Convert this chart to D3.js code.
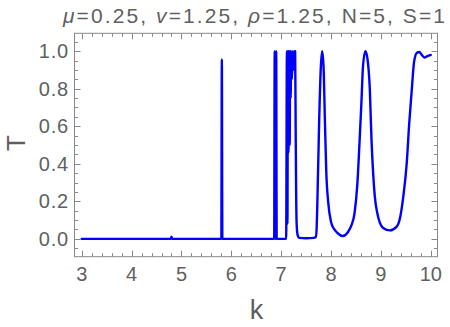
<!DOCTYPE html>
<html>
<head>
<meta charset="utf-8">
<script src="https://cdn.jsdelivr.net/npm/d3@7"></script>
<style>
  body { margin: 0; background: #fff; }
  svg { display: block; font-family: "Liberation Sans", Arial, sans-serif; }
  .lbl { fill: #5f5f5f; }
</style>
</head>
<body>
<svg width="450" height="327"></svg>
<script>
// k values and transmission T
var kVals = [3.0, 4.79, 4.80, 4.81, 5.80, 5.81, 5.82,
	6.86, 6.87, 6.882, 6.892, 6.90, 6.91,
	7.10, 7.115, 7.125, 7.135, 7.145, 7.155, 7.17, 7.18, 7.19, 7.20, 7.215, 7.23, 7.245, 7.26, 7.27, 7.28, 7.29, 7.30, 7.31, 7.33, 7.36,
	7.50, 7.65, 7.694, 7.71, 7.727, 7.761, 7.796, 7.822, 7.849, 7.878, 7.904, 7.945, 8.0,
	8.067, 8.134, 8.235, 8.337, 8.406, 8.473, 8.527, 8.574, 8.608, 8.641, 8.69, 8.73, 8.777, 8.811, 8.844, 8.878, 8.925, 8.98,
	9.046, 9.181, 9.316, 9.382, 9.449, 9.517, 9.569, 9.618, 9.664, 9.718, 9.771, 9.819, 9.871, 9.932, 10.0];
var tVals = [0, 0, 0.012, 0, 0, 0.956, 0,
	0, 1.0, 0, 0, 1.0, 0,
	0, 1.0, 0.08, 1.0, 0.46, 1.0, 0.5, 1.0, 0.75, 1.0, 0.85, 1.0, 0.9, 1.0, 0.94, 1.0, 0.6, 0.25, 0.08, 0.02, 0.005,
	0.003, 0.005, 0.01, 0.05, 0.21, 0.62, 0.92, 1.0, 0.92, 0.62, 0.36, 0.19, 0.09,
	0.05, 0.03, 0.015, 0.035, 0.07, 0.14, 0.29, 0.53, 0.72, 0.92, 1.0, 0.96, 0.8, 0.53, 0.35, 0.225, 0.14, 0.085,
	0.058, 0.045, 0.065, 0.11, 0.225, 0.40, 0.62, 0.79, 0.94, 0.99, 0.995, 0.98, 0.966, 0.973, 0.98];

var xTicks = [3, 4, 5, 6, 7, 8, 9, 10];
var yTicks = [0.0, 0.2, 0.4, 0.6, 0.8, 1.0];
var titleParts = [["μ", true], ["=0.25, ", false], ["v", true], ["=1.25, ", false], ["ρ", true], ["=1.25, N=5, S=1", false]];

var data = kVals.map(function(k, i) { return [k, tVals[i]]; });

var plotL = 74.5, plotR = 437.5, plotT = 33.3, plotB = 256.7;

var xScale = d3.scaleLinear()
	.domain([2.855, 10.135])
	.range([plotL, plotR]);

var yScale = d3.scaleLinear()
	.domain([-0.095, 1.095])
	.range([plotB, plotT]);

var svg = d3.select("svg");

// minor ticks
var xMinor = d3.range(2.8, 10.2, 0.2).filter(function(v) { return v > 2.855 && v < 10.135; });
var yMinor = d3.range(-0.05, 1.1, 0.05).filter(function(v) { return v > -0.095 && v < 1.095; });

var ticks = svg.append("g").attr("stroke", "#888").attr("stroke-width", 1);

function xTickMarks(vals, len) {
	vals.forEach(function(v) {
		var x = Math.round(xScale(v)) + 0.5;
		ticks.append("line").attr("x1", x).attr("x2", x).attr("y1", plotB).attr("y2", plotB - len);
		ticks.append("line").attr("x1", x).attr("x2", x).attr("y1", plotT).attr("y2", plotT + len);
	});
}
function yTickMarks(vals, len) {
	vals.forEach(function(v) {
		var y = Math.round(yScale(v)) + 0.5;
		ticks.append("line").attr("x1", plotL).attr("x2", plotL + len).attr("y1", y).attr("y2", y);
		ticks.append("line").attr("x1", plotR).attr("x2", plotR - len).attr("y1", y).attr("y2", y);
	});
}
xTickMarks(xMinor, 3.5);
xTickMarks(xTicks, 6);
yTickMarks(yMinor, 3.5);
yTickMarks(yTicks, 6);

svg.append("rect")
	.attr("x", plotL).attr("y", plotT)
	.attr("width", plotR - plotL).attr("height", plotB - plotT)
	.attr("fill", "none")
	.attr("stroke", "#888")
	.attr("stroke-width", 1);

svg.append("g").selectAll("text")
	.data(xTicks)
	.join("text")
		.attr("class", "lbl")
		.attr("x", function(d) { return xScale(d); })
		.attr("y", 280.5)
		.attr("text-anchor", "middle")
		.style("font-size", "20px")
		.text(function(d) { return d; });

svg.append("g").selectAll("text")
	.data(yTicks)
	.join("text")
		.attr("class", "lbl")
		.attr("x", 69)
		.attr("y", function(d) { return yScale(d) + 7; })
		.attr("text-anchor", "end")
		.style("font-size", "20px")
		.style("letter-spacing", "0.8px")
		.text(function(d) { return d.toFixed(1); });

var line = d3.line()
	.curve(d3.curveMonotoneX)
	.x(function(d) { return xScale(d[0]); })
	.y(function(d) { return yScale(d[1]); });

svg.append("path")
	.datum(data)
	.attr("fill", "none")
	.attr("stroke", "#0000ff")
	.attr("stroke-width", 2.4)
	.attr("stroke-linejoin", "round")
	.attr("stroke-linecap", "round")
	.attr("d", line);

var title = svg.append("text")
	.attr("class", "lbl")
	.attr("x", 254)
	.attr("y", 23)
	.attr("text-anchor", "middle")
	.attr("textLength", 382)
	.attr("lengthAdjust", "spacing")
	.style("font-size", "21px");
titleParts.forEach(function(p) {
	title.append("tspan").style("font-style", p[1] ? "italic" : "normal").text(p[0]);
});

svg.append("text")
	.attr("class", "lbl")
	.attr("x", 256.5)
	.attr("y", 319)
	.attr("text-anchor", "middle")
	.style("font-size", "27px")
	.text("k");

svg.append("text")
	.attr("class", "lbl")
	.attr("transform", "translate(25,143) rotate(-90)")
	.attr("text-anchor", "middle")
	.style("font-size", "26px")
	.text("T");
</script>
</body>
</html>
